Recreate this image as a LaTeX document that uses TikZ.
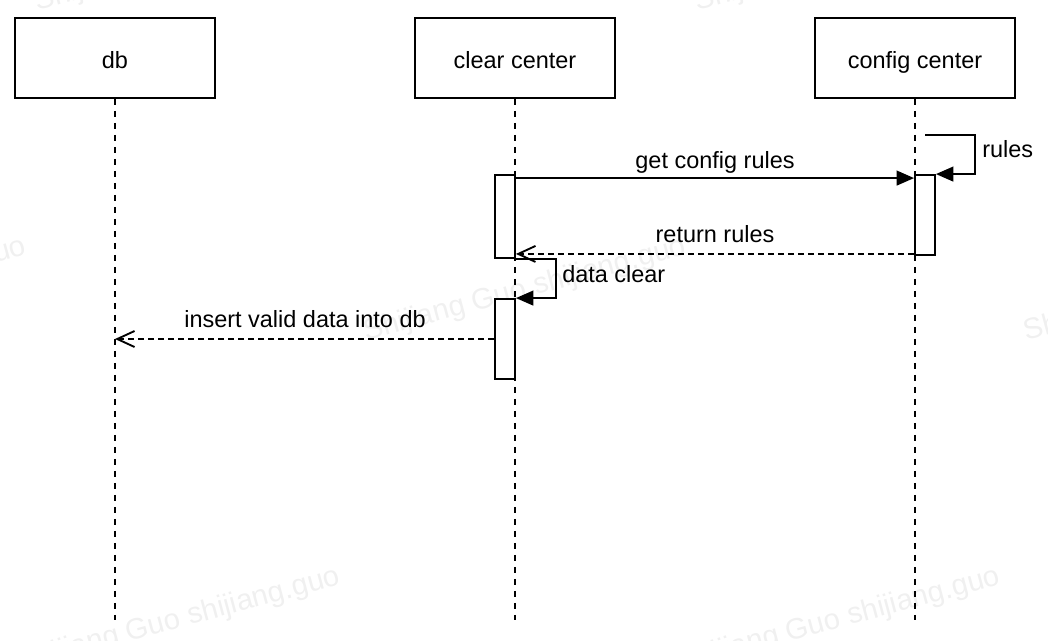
\documentclass[tikz,border=0pt]{standalone}
\usepackage{fontspec}
\setmainfont{Liberation Sans}
\usetikzlibrary{arrows.meta}
\begin{document}
\begin{tikzpicture}[x=0.75pt,y=-0.75pt,
  every node/.style={font=\fontsize{17.6pt}{21pt}\selectfont},
  head/.style={draw, line width=1.4pt, fill=white, minimum width=150pt, minimum height=60pt, inner sep=0pt, text height=15.6pt, text depth=0pt},
  life/.style={line width=1.4pt, dash pattern=on 4.5pt off 4.5pt},
  act/.style={draw, line width=1.4pt, fill=white, minimum width=15pt, inner sep=0pt},
  msg/.style={line width=1.4pt, -{Triangle[length=13pt,width=11pt]}},
  reply/.style={line width=1.4pt, dash pattern=on 4.5pt off 3pt, -{Straight Barb[length=13pt,width=12pt,line width=1.4pt]}},
  lbl/.style={inner sep=0pt, anchor=base},
  wm/.style={text=black!6, font=\fontsize{22pt}{26pt}\selectfont, rotate=15, inner sep=0pt}
]
\useasboundingbox (0,0) rectangle (1048,640);
% watermark
\begin{scope}
\clip (0,0) rectangle (1048,640);
\foreach \wx/\wy [count=\i] in {525/290, -135/290, 1185/290, 179/620, 839/620, 196/-40, 856/-40}
  \node[wm] (wm\i) at (\wx,\wy) {Shijiang Guo shijiang.guo};
\end{scope}
% heads
\node[head] (db) at (115,58) {db};
\node[head] (cc) at (515,58) {clear center};
\node[head] (cf) at (915,58) {config center};
% lifelines
\coordinate (dbend) at (115,620);
\coordinate (ccend) at (515,620);
\coordinate (cfend) at (915,620);
\draw[life] (db.south) -- (dbend);
\draw[life] (cc.south) -- (ccend);
\draw[life] (cf.south) -- (cfend);
% activations
\node[act, minimum height=62.25pt] (a1) at (505,216.5) {};
\node[act, minimum height=60pt] (a2) at (505,339) {};
\node[act, minimum height=60pt] (c1) at (925,215) {};
% get config rules
\draw[msg] ([yshift=-3pt]a1.north east) -- ([yshift=-3pt]c1.north west);
\node[lbl] (l1) at (715,168) {get config rules};
% rules self message
\coordinate (rs) at (925,135);
\draw[msg] (rs) -- ++(50,0) |- (c1.north east);
\node[lbl, anchor=base west] (l2) at (982,157) {rules};
% return rules
\draw[reply] ([yshift=1.5pt]c1.south west) -- ([yshift=3.75pt]a1.south east);
\node[lbl] (l3) at (715,242) {return rules};
% data clear
\draw[msg] (a1.south east) -- ++(40,0) |- (a2.north east);
\node[lbl, anchor=base west] (l4) at (562,282) {data clear};
% insert
\draw[reply] (a2.west) -- (dbend |- a2.west);
\node[lbl] (l5) at (305,327) {insert valid data into db};
\end{tikzpicture}
\end{document}
